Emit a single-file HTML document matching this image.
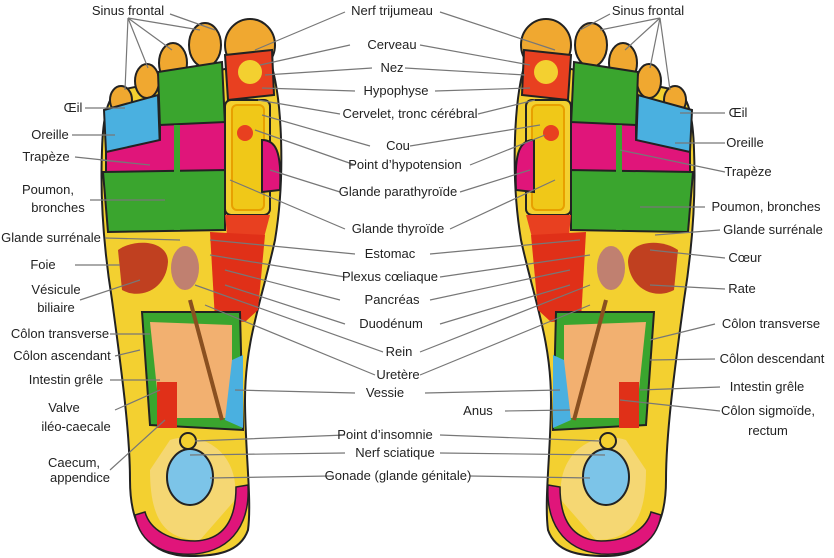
<!DOCTYPE html>
<html><head><meta charset="utf-8"><style>
html,body{margin:0;padding:0;background:#fff;width:834px;height:558px;overflow:hidden}
svg text{font-family:"Liberation Sans",Arial,sans-serif;font-size:13px;fill:#222}
</style></head><body>
<svg width="834" height="558" viewBox="0 0 834 558" xmlns="http://www.w3.org/2000/svg">
<defs>
<g id="foot">
  <path d="M190,556 C150,556 130,530 130,480 C130,430 120,360 112,300 C104,250 100,200 102,150 C103,115 108,95 120,90 L270,60 C283,100 285,180 275,240 C262,300 245,340 245,400 C245,450 252,500 248,530 C240,553 215,556 190,556 Z" fill="#f3d030" stroke="#222" stroke-width="2"/>
  <path d="M150,470 C150,520 165,540 200,540 L235,500 C240,450 200,430 170,440 Z" fill="#f6dca0" opacity=".6"/>
  <ellipse cx="250" cy="45" rx="25" ry="26" fill="#f0a830" stroke="#222" stroke-width="2"/>
  <path d="M225,55 L272,50 L274,95 L228,100 Z" fill="#e84020" stroke="#222" stroke-width="2"/>
  <circle cx="250" cy="72" r="12" fill="#f3d030"/>
  <ellipse cx="205" cy="45" rx="16" ry="22" fill="#f0a830" stroke="#222" stroke-width="2"/>
  <ellipse cx="173" cy="63" rx="14" ry="20" fill="#f0a830" stroke="#222" stroke-width="2"/>
  <ellipse cx="147" cy="81" rx="12" ry="17" fill="#f0a830" stroke="#222" stroke-width="2"/>
  <ellipse cx="121" cy="100" rx="11" ry="14" fill="#f0a830" stroke="#222" stroke-width="2"/>
  <path d="M158,72 L222,62 L225,125 L160,128 Z" fill="#3aa52e" stroke="#222" stroke-width="2"/>
  <path d="M104,110 L158,95 L160,150 L106,152 Z" fill="#4ab0e0" stroke="#222" stroke-width="2"/>
  <path d="M106,152 L160,140 L160,125 L225,122 L225,175 L106,175 Z" fill="#e0157a" stroke="#222" stroke-width="2"/>
  <path d="M103,172 L225,170 L225,230 L108,232 Z" fill="#3aa52e" stroke="#222" stroke-width="2"/>
  <rect x="174" y="125" width="6" height="105" fill="#3aa52e"/>
  <rect x="225" y="100" width="45" height="115" rx="6" fill="#f3d030" stroke="#222" stroke-width="2"/>
  <rect x="232" y="105" width="32" height="105" rx="5" fill="#f0c818" stroke="#e8a000" stroke-width="2"/>
  <circle cx="245" cy="133" r="8" fill="#e84020"/>
  <path d="M262,140 C275,140 282,150 280,190 L262,192 Z" fill="#e0157a" stroke="#222" stroke-width="2"/>
  <path d="M225,215 L270,215 L262,245 L228,245 Z" fill="#e84020"/>
  <path d="M118,250 C135,238 168,240 168,262 C166,290 140,300 122,290 Z" fill="#c04020"/>
  <ellipse cx="185" cy="268" rx="14" ry="22" fill="#c08070"/>
  <path d="M210,232 L265,235 L258,310 L245,322 L215,320 Z" fill="#e03018"/>
  <path d="M142,312 L240,312 L243,430 L150,425 Z" fill="#3aa52e" stroke="#222" stroke-width="2"/>
  <path d="M150,322 L232,325 L232,418 L160,418 Z" fill="#f2b070"/>
  <path d="M232,360 L243,355 L243,428 L225,420 Z" fill="#4ab0e0"/>
  <rect x="157" y="382" width="20" height="46" fill="#e03018"/>
  <line x1="190" y1="300" x2="222" y2="420" stroke="#8a5020" stroke-width="4"/>
  <circle cx="188" cy="441" r="8" fill="#f3d030" stroke="#222" stroke-width="2"/>
  <ellipse cx="190" cy="477" rx="23" ry="28" fill="#7cc4e8" stroke="#222" stroke-width="2"/>
  <path d="M135,515 C140,545 165,556 195,554 C235,550 250,520 248,485 L236,487 C236,525 220,540 195,541 C170,541 150,530 145,512 Z" fill="#e0157a" stroke="#222" stroke-width="1.5"/>
</g>
</defs>
<use href="#foot"/>
<use href="#foot" transform="translate(796,0) scale(-1,1)"/>
<g stroke="#777" stroke-width="1.2" fill="none">
<path d="M170,14 L215,30 M128,18 L125,90 M128,18 L148,68 M128,18 L172,50 M128,18 L200,30"/>
<path d="M345,12 L255,50 M350,45 L260,65 M372,68 L265,75 M355,91 L262,88 M340,114 L258,100 M370,146 L262,115 M355,165 L255,130 M340,192 L270,170 M345,229 L230,180 M355,254 L210,240 M345,277 L210,255 M340,300 L225,270 M345,324 L225,285 M383,352 L195,285 M375,375 L205,305 M355,393 L235,390 M345,435 L195,441 M345,453 L190,455 M330,476 L210,478"/>
<path d="M440,12 L555,50 M420,45 L530,65 M405,68 L525,75 M435,91 L530,88 M478,114 L535,100 M410,146 L540,125 M470,165 L545,135 M460,192 L530,170 M450,229 L555,180 M430,254 L580,240 M440,277 L590,255 M430,300 L570,270 M440,324 L570,285 M420,352 L590,285 M420,375 L590,305 M425,393 L560,390 M440,435 L600,441 M440,453 L605,455 M470,476 L590,478"/>
<path d="M610,14 L580,30 M660,18 L670,90 M660,18 L650,68 M660,18 L625,50 M660,18 L600,30"/>
<path d="M85,108 L125,108 M72,135 L115,135 M75,157 L150,165 M100,160 L150,165 M90,200 L165,200 M105,238 L180,240 M75,265 L120,265 M80,300 L140,280 M110,334 L150,334 M115,356 L140,350 M110,380 L160,380 M115,410 L160,390 M110,470 L165,420"/>
<path d="M725,113 L680,113 M725,143 L675,143 M725,172 L620,150 M705,207 L640,207 M720,230 L655,235 M725,258 L650,250 M725,289 L650,285 M715,324 L650,340 M715,359 L650,360 M720,387 L640,390 M720,411 L620,400 M505,411 L570,410"/>
</g>
<g text-anchor="middle">
<text x="128" y="15">Sinus frontal</text>
<text x="392" y="15">Nerf trijumeau</text>
<text x="648" y="15">Sinus frontal</text>
<text x="392" y="49">Cerveau</text>
<text x="392" y="72">Nez</text>
<text x="396" y="95">Hypophyse</text>
<text x="410" y="118">Cervelet, tronc cérébral</text>
<text x="398" y="150">Cou</text>
<text x="405" y="169">Point d’hypotension</text>
<text x="398" y="196">Glande parathyroïde</text>
<text x="398" y="233">Glande thyroïde</text>
<text x="390" y="258">Estomac</text>
<text x="390" y="281">Plexus cœliaque</text>
<text x="392" y="304">Pancréas</text>
<text x="391" y="328">Duodénum</text>
<text x="399" y="356">Rein</text>
<text x="398" y="379">Uretère</text>
<text x="385" y="397">Vessie</text>
<text x="385" y="439">Point d’insomnie</text>
<text x="395" y="457">Nerf sciatique</text>
<text x="398" y="480">Gonade (glande génitale)</text>
<text x="73" y="112">Œil</text>
<text x="50" y="139">Oreille</text>
<text x="46" y="161">Trapèze</text>
<text x="48" y="194">Poumon,</text>
<text x="58" y="212">bronches</text>
<text x="51" y="242">Glande surrénale</text>
<text x="43" y="269">Foie</text>
<text x="56" y="294">Vésicule</text>
<text x="56" y="312">biliaire</text>
<text x="60" y="338">Côlon transverse</text>
<text x="62" y="360">Côlon ascendant</text>
<text x="66" y="384">Intestin grêle</text>
<text x="64" y="412">Valve</text>
<text x="76" y="431">iléo-caecale</text>
<text x="74" y="467">Caecum,</text>
<text x="80" y="482">appendice</text>
<text x="738" y="117">Œil</text>
<text x="745" y="147">Oreille</text>
<text x="748" y="176">Trapèze</text>
<text x="766" y="211">Poumon, bronches</text>
<text x="773" y="234">Glande surrénale</text>
<text x="745" y="262">Cœur</text>
<text x="742" y="293">Rate</text>
<text x="771" y="328">Côlon transverse</text>
<text x="772" y="363">Côlon descendant</text>
<text x="767" y="391">Intestin grêle</text>
<text x="768" y="415">Côlon sigmoïde,</text>
<text x="768" y="435">rectum</text>
<text x="478" y="415">Anus</text>
</g>
</svg>
</body></html>
